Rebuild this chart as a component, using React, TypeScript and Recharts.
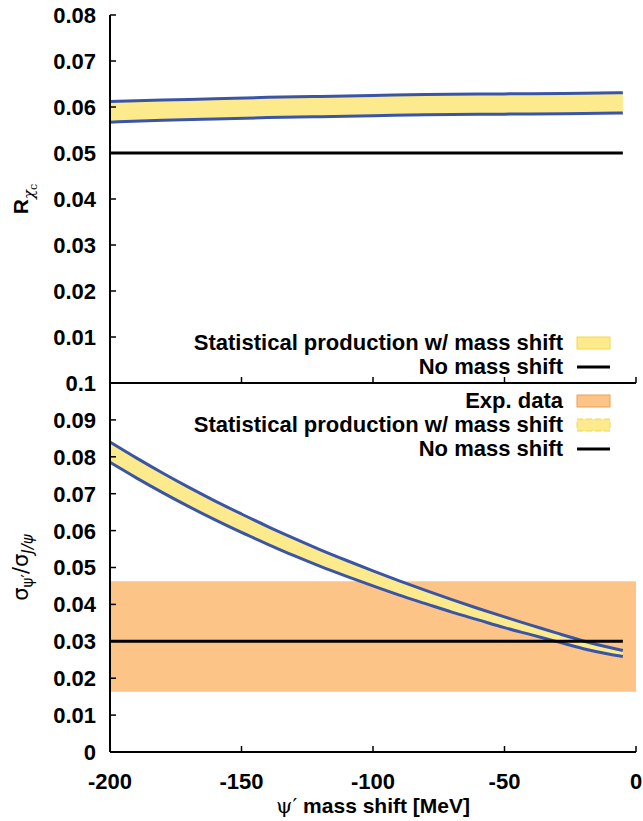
import React from "react";
import {
  ComposedChart,
  Area,
  Line,
  XAxis,
  YAxis,
  ReferenceLine,
  ReferenceArea,
  Legend,
} from "recharts";

// mass shift values (MeV) where the band was read
const shiftTop = [-200, -180, -160, -140, -120, -100, -80, -60, -40, -20, -5];
const rChiUpper = [0.0612, 0.0615, 0.0618, 0.0621, 0.0623, 0.0625, 0.0627, 0.0628, 0.0629, 0.063, 0.0631];
const rChiLower = [0.0567, 0.0571, 0.0574, 0.0577, 0.0579, 0.0581, 0.0583, 0.0584, 0.0585, 0.0586, 0.0587];

const shiftBottom = [
  -200, -190, -180, -170, -160, -150, -140, -130, -120, -110, -100, -90, -80, -70, -60, -50, -40, -30, -20, -10, -5,
];
const ratioUpper = [
  0.084, 0.0797, 0.0756, 0.0717, 0.068, 0.0645, 0.0611, 0.0579, 0.0548, 0.0519, 0.0491, 0.0464, 0.0438, 0.0413,
  0.0389, 0.0366, 0.0344, 0.0322, 0.0301, 0.0283, 0.0275,
];
const ratioLower = [
  0.0785, 0.0743, 0.0703, 0.0665, 0.0629, 0.0595, 0.0563, 0.0532, 0.0503, 0.0476, 0.045, 0.0425, 0.0402, 0.0379,
  0.0358, 0.0337, 0.0318, 0.0299, 0.028, 0.0265, 0.0259,
];

const noShiftTop = 0.05;
const noShiftBottom = 0.03;
const noShiftEnd = -5;
const expLow = 0.0163;
const expHigh = 0.0463;

const xTicks = [-200, -150, -100, -50, 0];
const yTicksTop = [0.01, 0.02, 0.03, 0.04, 0.05, 0.06, 0.07, 0.08];
const yTicksBottom = [0, 0.01, 0.02, 0.03, 0.04, 0.05, 0.06, 0.07, 0.08, 0.09, 0.1];

const FONT = "'Liberation Sans', Arial, Helvetica, sans-serif";
const BLUE = "#3a55a6";
const YELLOW = "#fdea8c";
const ORANGE = "#fcc486";
const TICK = 6;
const X_LABEL_GAP = 21;

const axisLine = { stroke: "#000", strokeWidth: 2 };

const topData = shiftTop.map((x, i) => ({ x, lo: rChiLower[i], hi: rChiUpper[i], band: [rChiLower[i], rChiUpper[i]] }));
const bottomData = shiftBottom.map((x, i) => ({
  x,
  lo: ratioLower[i],
  hi: ratioUpper[i],
  band: [ratioLower[i], ratioUpper[i]],
}));

// gnuplot style ticks: drawn inward, labels outside
const LeftTick = ({ x, y, payload }: any) => (
  <g>
    <line x1={x + 14} x2={x + 14 + TICK} y1={y} y2={y} stroke="#000" strokeWidth={1.5} />
    <text x={x} y={y} dy="0.36em" textAnchor="end" fontFamily={FONT} fontSize={22} fontWeight="bold" fill="#000">
      {payload.value}
    </text>
  </g>
);
const BottomTick = ({ x, y, payload }: any) => (
  <g>
    <line x1={x} x2={x} y1={y - X_LABEL_GAP} y2={y - X_LABEL_GAP - TICK} stroke="#000" strokeWidth={1.5} />
    <text x={x} y={y} dy="0.72em" textAnchor="middle" fontFamily={FONT} fontSize={22} fontWeight="bold" fill="#000">
      {payload.value}
    </text>
  </g>
);
const UpTick = ({ x, y }: any) => <line x1={x} x2={x} y1={y} y2={y - TICK} stroke="#000" strokeWidth={1.5} />;
const DownTick = ({ x, y }: any) => <line x1={x} x2={x} y1={y} y2={y + TICK} stroke="#000" strokeWidth={1.5} />;
const RightTick = ({ x, y }: any) => <line x1={x} x2={x - TICK} y1={y} y2={y} stroke="#000" strokeWidth={1.5} />;

type LegendItem = { label: string; kind: "band" | "bandDashed" | "exp" | "line" };

function LegendBox({ items }: { items: LegendItem[] }) {
  return (
    <div style={{ fontFamily: FONT, fontWeight: "bold", fontSize: 22, color: "#000" }}>
      {items.map((it) => (
        <div key={it.label} style={{ display: "flex", alignItems: "center", justifyContent: "flex-end", height: 24 }}>
          <span style={{ whiteSpace: "nowrap" }}>{it.label}</span>
          <svg width={48} height={24} style={{ display: "block" }}>
            {it.kind === "line" ? (
              <line x1={14} x2={47} y1={12} y2={12} stroke="#000" strokeWidth={3} />
            ) : (
              <rect
                x={14}
                y={6}
                width={33}
                height={12}
                fill={it.kind === "exp" ? ORANGE : YELLOW}
                stroke={it.kind === "exp" ? "#f0a050" : "#f5d54a"}
                strokeWidth={1}
                strokeDasharray={it.kind === "bandDashed" ? "6 3" : undefined}
              />
            )}
          </svg>
        </div>
      ))}
    </div>
  );
}

function TopYTitle(props: any) {
  const { viewBox } = props;
  const cx = viewBox.x + 18;
  const cy = viewBox.y + viewBox.height / 2;
  return (
    <text
      transform={`translate(${cx},${cy}) rotate(-90)`}
      textAnchor="middle"
      fontFamily={FONT}
      fontSize={21}
      fontWeight="bold"
      fill="#000"
    >
      <tspan>R</tspan>
      <tspan fontSize={15} fontWeight="normal" dy={6} fontFamily="'DejaVu Serif', serif" fontStyle="italic">
        χ
      </tspan>
      <tspan fontSize={11} fontWeight="normal" dy={3} fontFamily="'DejaVu Serif', serif">
        c
      </tspan>
    </text>
  );
}

function BottomYTitle(props: any) {
  const { viewBox } = props;
  const cx = viewBox.x + 18;
  const cy = viewBox.y + viewBox.height / 2;
  return (
    <text
      transform={`translate(${cx},${cy}) rotate(-90)`}
      textAnchor="middle"
      fontFamily="'DejaVu Sans', sans-serif"
      fontSize={21}
      fill="#000"
    >
      <tspan>σ</tspan>
      <tspan fontSize={15} dy={5}>ψ′</tspan>
      <tspan dy={-5}>/σ</tspan>
      <tspan fontSize={15} dy={5} fontStyle="italic">J/ψ</tspan>
    </text>
  );
}

function XTitle(props: any) {
  const { viewBox } = props;
  const cx = viewBox.x + viewBox.width / 2;
  return (
    <text x={cx} y={viewBox.y + 61} textAnchor="middle" fontFamily={FONT} fontSize={21} fill="#000">
      <tspan fontFamily="'DejaVu Serif', serif">ψ′</tspan>
      <tspan fontWeight="bold"> mass shift [MeV]</tspan>
    </text>
  );
}

export default function App() {
  return (
    <div style={{ position: "absolute", left: 0, top: 0, width: 643, height: 821, background: "#fff" }}>
      {/* lower panel: psi' / J/psi ratio */}
      <ComposedChart
        width={643}
        height={821}
        data={bottomData}
        margin={{ top: 383, right: 7, left: 10, bottom: 0 }}
        style={{ position: "absolute", left: 0, top: 0 }}
      >
        <ReferenceArea x1={-200} x2={0} y1={expLow} y2={expHigh} fill={ORANGE} fillOpacity={1} stroke="none" />
        <XAxis
          type="number"
          dataKey="x"
          domain={[-200, 0]}
          ticks={xTicks}
          interval={0}
          height={69}
          tick={BottomTick}
          tickSize={0}
          tickMargin={X_LABEL_GAP}
          tickLine={false}
          axisLine={axisLine}
          label={{ content: XTitle }}
        />
        <XAxis
          xAxisId="t"
          orientation="top"
          type="number"
          domain={[-200, 0]}
          ticks={xTicks}
          interval={0}
          height={0}
          tick={DownTick}
          tickSize={0}
          tickMargin={0}
          tickLine={false}
          axisLine={axisLine}
        />
        <YAxis
          type="number"
          domain={[0, 0.1]}
          ticks={yTicksBottom}
          interval={0}
          width={100}
          tick={LeftTick}
          tickSize={0}
          tickMargin={14}
          tickLine={false}
          axisLine={axisLine}
          label={{ content: BottomYTitle }}
        />
        <YAxis
          yAxisId="r"
          orientation="right"
          type="number"
          domain={[0, 0.1]}
          ticks={yTicksBottom}
          interval={0}
          width={0}
          tick={RightTick}
          tickSize={0}
          tickMargin={0}
          tickLine={false}
          axisLine={axisLine}
        />
        <Area type="monotone" dataKey="band" fill={YELLOW} fillOpacity={1} stroke="none" isAnimationActive={false} />
        <Line type="monotone" dataKey="hi" stroke={BLUE} strokeWidth={3} dot={false} isAnimationActive={false} />
        <Line type="monotone" dataKey="lo" stroke={BLUE} strokeWidth={3} dot={false} isAnimationActive={false} />
        <ReferenceLine
          segment={[
            { x: -200, y: noShiftBottom },
            { x: noShiftEnd, y: noShiftBottom },
          ]}
          stroke="#000"
          strokeWidth={3}
        />
        <Legend
          layout="vertical"
          align="center"
          verticalAlign="middle"
          wrapperStyle={{ top: 389, left: 100, width: 511 }}
          content={() => (
            <LegendBox
              items={[
                { label: "Exp. data", kind: "exp" },
                { label: "Statistical production w/ mass shift", kind: "bandDashed" },
                { label: "No mass shift", kind: "line" },
              ]}
            />
          )}
        />
      </ComposedChart>

      {/* upper panel: R_chi_c */}
      <ComposedChart
        width={643}
        height={384}
        data={topData}
        margin={{ top: 15, right: 7, left: 10, bottom: 0 }}
        style={{ position: "absolute", left: 0, top: 0 }}
      >
        <XAxis
          type="number"
          dataKey="x"
          domain={[-200, 0]}
          ticks={xTicks}
          interval={0}
          height={1}
          tick={UpTick}
          tickSize={0}
          tickMargin={0}
          tickLine={false}
          axisLine={axisLine}
        />
        <XAxis
          xAxisId="t"
          orientation="top"
          type="number"
          domain={[-200, 0]}
          ticks={xTicks}
          interval={0}
          height={0}
          tick={DownTick}
          tickSize={0}
          tickMargin={0}
          tickLine={false}
          axisLine={axisLine}
        />
        <YAxis
          type="number"
          domain={[0, 0.08]}
          ticks={yTicksTop}
          interval={0}
          width={100}
          tick={LeftTick}
          tickSize={0}
          tickMargin={14}
          tickLine={false}
          axisLine={axisLine}
          label={{ content: TopYTitle }}
        />
        <YAxis
          yAxisId="r"
          orientation="right"
          type="number"
          domain={[0, 0.08]}
          ticks={yTicksTop}
          interval={0}
          width={0}
          tick={RightTick}
          tickSize={0}
          tickMargin={0}
          tickLine={false}
          axisLine={axisLine}
        />
        <Area type="monotone" dataKey="band" fill={YELLOW} fillOpacity={1} stroke="none" isAnimationActive={false} />
        <Line type="monotone" dataKey="hi" stroke={BLUE} strokeWidth={3} dot={false} isAnimationActive={false} />
        <Line type="monotone" dataKey="lo" stroke={BLUE} strokeWidth={3} dot={false} isAnimationActive={false} />
        <ReferenceLine
          segment={[
            { x: -200, y: noShiftTop },
            { x: noShiftEnd, y: noShiftTop },
          ]}
          stroke="#000"
          strokeWidth={3}
        />
        <Legend
          layout="vertical"
          align="center"
          verticalAlign="middle"
          wrapperStyle={{ top: 331, left: 100, width: 511 }}
          content={() => (
            <LegendBox
              items={[
                { label: "Statistical production w/ mass shift", kind: "band" },
                { label: "No mass shift", kind: "line" },
              ]}
            />
          )}
        />
      </ComposedChart>
    </div>
  );
}
